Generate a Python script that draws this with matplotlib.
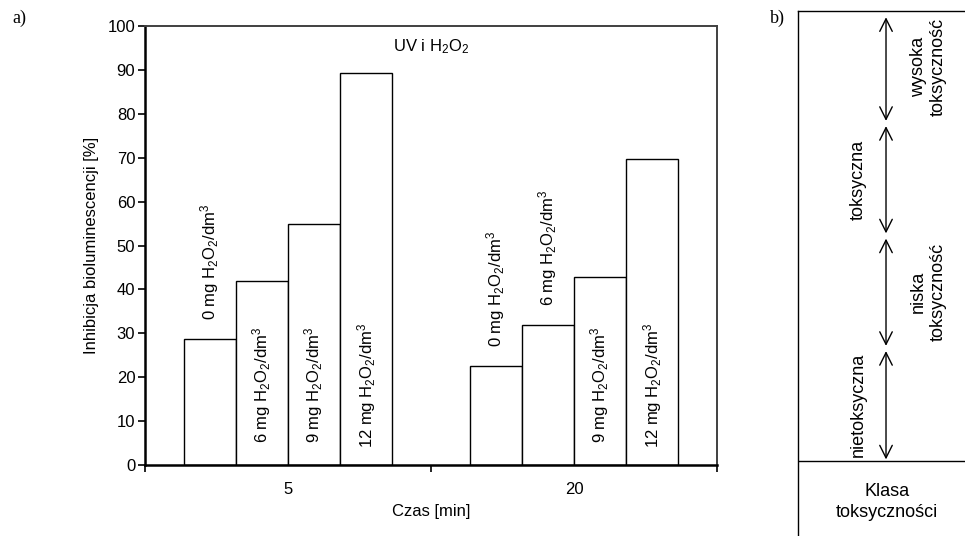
import matplotlib
matplotlib.use("Agg")
import matplotlib.pyplot as plt
import numpy as np

plt.rcParams['font.family'] = 'Liberation Sans'
plt.rcParams['mathtext.fontset'] = 'custom'
plt.rcParams['mathtext.rm'] = 'Liberation Sans'
plt.rcParams['mathtext.default'] = 'regular'

# --- data ---
times = ['5', '20']
doses = [0, 6, 9, 12]
inhibition_5 = [28.6, 41.8, 55.0, 89.2]
inhibition_20 = [22.5, 31.8, 42.8, 69.8]
# where each bar label sits: 'out' above bar, 'in' inside near base
label_pos_5 = ['out', 'in', 'in', 'in']
label_pos_20 = ['out', 'out', 'in', 'in']

tox_classes = ['wysoka\ntoksyczność', 'toksyczna', 'niska\ntoksyczność', 'nietoksyczna']
tox_text_side = ['right', 'left', 'right', 'left']

fig = plt.figure(figsize=(9.65, 5.36), dpi=100)

# --- panel a) ---
ax = fig.add_axes([145 / 965, (536 - 465) / 536, (717 - 145) / 965, (465 - 26) / 536])

bar_w = 0.182
groups = [inhibition_5, inhibition_20]
label_groups = [label_pos_5, label_pos_20]
for gi, (vals, lpos) in enumerate(zip(groups, label_groups)):
    for i, (v, d, lp) in enumerate(zip(vals, doses, lpos)):
        x = gi + (i - 1.5) * bar_w
        ax.bar(x, v, width=bar_w, color='white', edgecolor='black', linewidth=1.0, zorder=2)
        txt = rf'{d} mg H$_2$O$_2$/dm$^3$'
        if lp == 'out':
            ax.annotate(txt, (x, v), xytext=(0, 14), textcoords='offset points',
                        rotation=90, ha='center', va='bottom', fontsize=12, zorder=3)
        else:
            ax.text(x, 18.2, txt, rotation=90, ha='center', va='center', fontsize=12, zorder=3)

ax.set_xlim(-0.5, 1.5)
ax.set_ylim(0, 100)
ax.set_yticks(np.arange(0, 101, 10))
ax.set_xticks([-0.5, 0.5, 1.5])
ax.set_xticklabels([])
ax.set_xticks(range(len(times)), minor=True)
ax.set_xticklabels(times, minor=True)
ax.tick_params(axis='x', which='minor', length=0, labelsize=12, pad=12)
ax.tick_params(axis='x', which='major', length=5, width=1.2, direction='out')
ax.tick_params(axis='y', length=5, width=1.2, direction='out', labelsize=12, pad=2)
ax.set_ylabel('Inhibicja bioluminescencji [%]', fontsize=12, labelpad=6)
ax.set_xlabel('Czas [min]', fontsize=12, labelpad=5)
for s in ['left', 'bottom']:
    ax.spines[s].set_linewidth(1.8)
for s in ['top', 'right']:
    ax.spines[s].set_linewidth(1.4)
    ax.spines[s].set_color('#404040')
ax.text(0.5, 95.3, r'UV i H$_2$O$_2$', ha='center', va='center', fontsize=12)

fig.text(12 / 965, 1 - 18 / 536, 'a)', family='Liberation Serif', fontsize=13, va='center')

# --- panel b) ---
ax2 = fig.add_axes([798 / 965, 0, 1 - 798 / 965, (536 - 11) / 536])
ax2.set_xlim(0, 1)
ax2.set_ylim(0, 1)
ax2.set_xticks([])
ax2.set_yticks([])
for s in ['right', 'bottom']:
    ax2.spines[s].set_visible(False)
for s in ['left', 'top']:
    ax2.spines[s].set_linewidth(1.0)

div = 0.1429
ax2.axhline(div, color='black', linewidth=1.0)
ax2.text(0.533, 0.065, 'Klasa\ntoksyczności', ha='center', va='center', fontsize=13,
         linespacing=1.3)

n = len(tox_classes)
seg = (1 - div) / n
gap = 0.005
arrow_x = 0.527
for i, (lab, side) in enumerate(zip(tox_classes, tox_text_side)):
    top = 1 - i * seg
    bot = top - seg
    ax2.annotate('', xy=(arrow_x, top - 0.012 if i == 0 else top - gap),
                 xytext=(arrow_x, bot + gap if i < n - 1 else bot + 0.003),
                 arrowprops=dict(arrowstyle='<->,head_length=0.6,head_width=0.3',
                                 color='black', lw=1.0,
                                 mutation_scale=15, shrinkA=0, shrinkB=0))
    yc = (top + bot) / 2
    if side == 'right':
        ax2.text(0.78, yc, lab, rotation=90, ha='center', va='center', fontsize=13,
                 linespacing=1.2)
    else:
        ax2.text(0.36, yc, lab, rotation=90, ha='center', va='center', fontsize=13)

fig.text(770 / 965, 1 - 18 / 536, 'b)', family='Liberation Serif', fontsize=13, va='center')

fig.savefig('out.png', dpi=100)
